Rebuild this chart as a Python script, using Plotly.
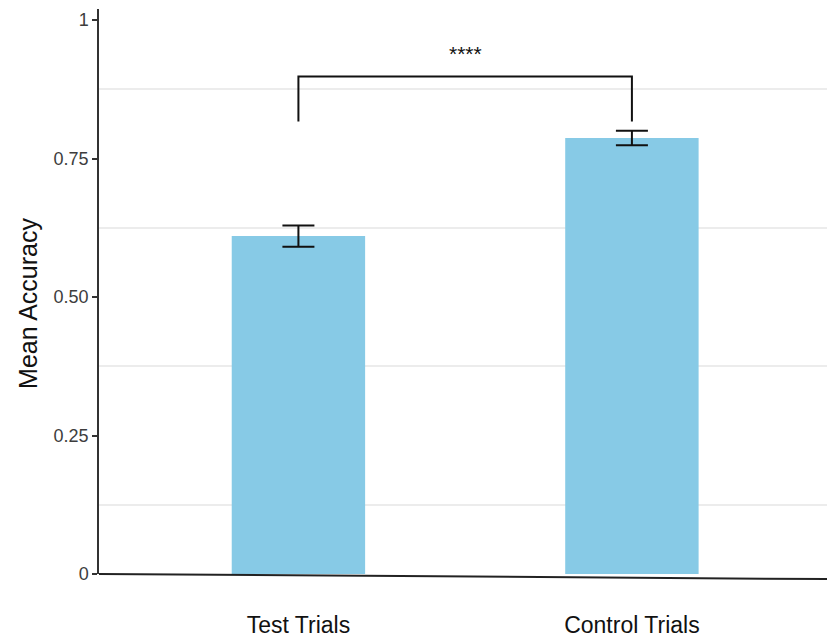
import plotly.graph_objects as go

# Mean accuracy per trial type, with standard errors
categories = ["Test Trials", "Control Trials"]
mean_accuracy = [0.610, 0.787]
std_error = [0.019, 0.013]

# Y-axis ticks and light reference lines
y_tickvals = [0, 0.25, 0.5, 0.75, 1]
y_ticktext = ["0", "0.25", "0.50", "0.75", "1"]
grid_vals = [0.125, 0.375, 0.625, 0.875]

# Significance bracket between the two conditions
bracket_top = 0.898
bracket_foot = 0.817
sig_label = "****"
sig_label_y = 0.94

FONT = "Liberation Sans, Arial, sans-serif"

fig = go.Figure()

fig.add_trace(go.Bar(
    x=categories,
    y=mean_accuracy,
    width=0.4,
    marker=dict(color="#87CAE6", line=dict(width=0)),
    error_y=dict(type="data", array=std_error, visible=True,
                 color="#111111", thickness=2, width=16),
    showlegend=False,
))

# Bracket drawn through the data axes
fig.add_trace(go.Scatter(
    x=[categories[0], categories[0], categories[1], categories[1]],
    y=[bracket_foot, bracket_top, bracket_top, bracket_foot],
    mode="lines",
    line=dict(color="#111111", width=2),
    hoverinfo="skip",
    showlegend=False,
))

fig.add_annotation(
    x=0.5, y=sig_label_y, xref="x", yref="y",
    text=sig_label, showarrow=False,
    font=dict(family=FONT, size=21, color="#111111"),
)

# Y-axis title, placed a little below the panel's middle
fig.add_annotation(
    x=-0.0975, y=0.478, xref="paper", yref="paper",
    text="Mean Accuracy", textangle=-90, showarrow=False,
    xanchor="center", yanchor="middle",
    font=dict(family=FONT, size=25, color="#111111"),
)

# Baseline along the bottom of the panel
fig.add_shape(
    type="line", xref="paper", yref="paper",
    x0=0.0, y0=0.0, x1=1.0, y1=-0.009,
    line=dict(color="#222222", width=2),
)

fig.update_layout(
    width=827, height=640,
    margin=dict(l=99, r=0, t=9, b=66),
    paper_bgcolor="white",
    plot_bgcolor="white",
    bargap=0.6,
    font=dict(family=FONT),
    xaxis=dict(
        type="category",
        range=[-0.598, 1.585],
        showline=False,
        showgrid=False,
        zeroline=False,
        ticks="",
        ticklabelstandoff=35,
        tickfont=dict(family=FONT, size=23, color="#111111"),
    ),
    yaxis=dict(
        range=[0, 1.02],
        tickvals=y_tickvals,
        ticktext=y_ticktext,
        ticks="outside",
        ticklen=5,
        tickwidth=1.5,
        tickcolor="#333333",
        tickfont=dict(family=FONT, size=18, color="#3d3d3d"),
        showline=True,
        linecolor="#333333",
        linewidth=1.5,
        showgrid=False,
        zeroline=False,
        minor=dict(tickvals=grid_vals, showgrid=True,
                   gridcolor="#ececec", gridwidth=1.5, ticks=""),
    ),
)

fig.write_html("out.html")
